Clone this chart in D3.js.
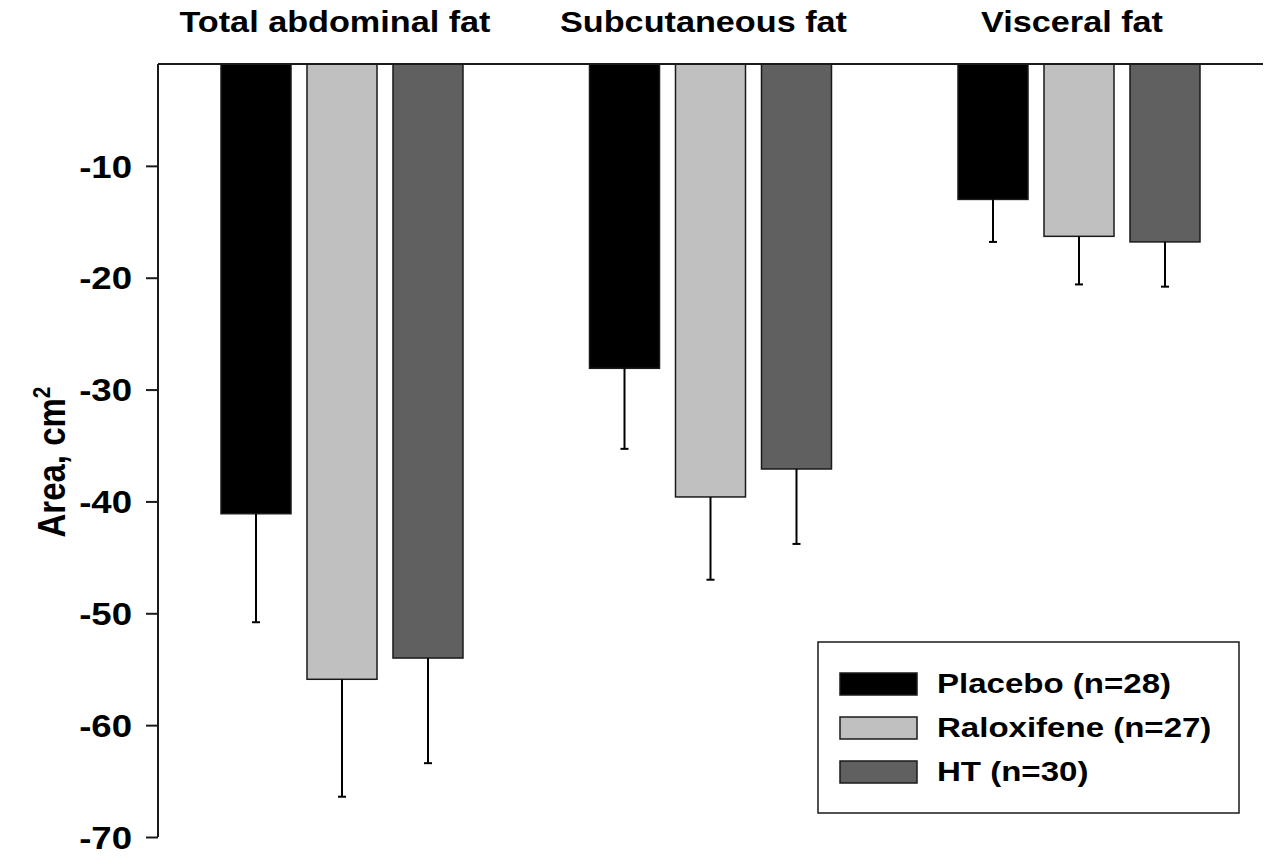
<!DOCTYPE html>
<html>
<head>
<meta charset="utf-8">
<script src="https://cdn.jsdelivr.net/npm/d3@7"></script>
<style>
  body { margin: 0; background: #fff; }
  svg text { font-family: "Liberation Sans", Arial, sans-serif; font-weight: bold; fill: #000; }
</style>
</head>
<body>
<svg id="chart" width="1272" height="856"></svg>
<script>
// data (change in area, cm2)
var groups = ["Total abdominal fat", "Subcutaneous fat", "Visceral fat"]
var series = ["Placebo (n=28)", "Raloxifene (n=27)", "HT (n=30)"]
var colors = ["#000000", "#c0c0c0", "#606060"]
var placebo    = [-41.1, -28.1, -13.0]
var raloxifene = [-55.9, -39.6, -16.3]
var ht         = [-54.0, -37.1, -16.8]
var placebo_err    = [9.7, 7.2, 3.8]
var raloxifene_err = [10.5, 7.4, 4.3]
var ht_err         = [9.4, 6.7, 4.0]
var y_ticks = [-10, -20, -30, -40, -50, -60, -70]

var values = [placebo, raloxifene, ht]
var errs = [placebo_err, raloxifene_err, ht_err]

var svg = d3.select("#chart")
var stretch = 1.18   // text in the original is a bit wider than tall
var plot_top = 64
var axis_x = 158
var right_end = 1263

var y = d3.scaleLinear().domain([-70, 0]).range([837, 54])

var x0 = d3.scaleBand().domain(groups).range([221, 1200]).paddingInner(0.3433)
var x1 = d3.scaleBand().domain(series).range([0, x0.bandwidth()]).paddingInner(0.186)

// bars
var rows = []
groups.forEach((g, gi) => {
  series.forEach((s, si) => {
    rows.push({g: g, s: s, v: values[si][gi], e: errs[si][gi], c: colors[si]})
  })
})

var bars = svg.append("g")
bars.selectAll("rect")
  .data(rows)
  .enter().append("rect")
  .attr("x", d => x0(d.g) + x1(d.s))
  .attr("width", x1.bandwidth())
  .attr("y", plot_top)
  .attr("height", d => y(d.v) - plot_top)
  .attr("fill", d => d.c)
  .attr("stroke", "#1a1a1a")
  .attr("stroke-width", 1.5)

// error bars (downward only)
var eb = svg.append("g").attr("stroke", "#000").attr("stroke-width", 2)
eb.selectAll("line.stem")
  .data(rows)
  .enter().append("line")
  .attr("class", "stem")
  .attr("x1", d => x0(d.g) + x1(d.s) + x1.bandwidth() / 2)
  .attr("x2", d => x0(d.g) + x1(d.s) + x1.bandwidth() / 2)
  .attr("y1", d => y(d.v))
  .attr("y2", d => y(d.v - d.e))
eb.selectAll("line.cap")
  .data(rows)
  .enter().append("line")
  .attr("class", "cap")
  .attr("x1", d => x0(d.g) + x1(d.s) + x1.bandwidth() / 2 - 4)
  .attr("x2", d => x0(d.g) + x1(d.s) + x1.bandwidth() / 2 + 4)
  .attr("y1", d => y(d.v - d.e))
  .attr("y2", d => y(d.v - d.e))

// axes lines
svg.append("line")
  .attr("x1", axis_x).attr("x2", right_end)
  .attr("y1", plot_top).attr("y2", plot_top)
  .attr("stroke", "#1a1a1a").attr("stroke-width", 2)

var yaxis = svg.append("g")
  .attr("transform", `translate(${axis_x},0)`)
  .call(d3.axisLeft(y).tickValues(y_ticks).tickSize(12).tickPadding(12).tickFormat(d => String(d)))
yaxis.select(".domain").remove()
yaxis.append("line")
  .attr("y1", plot_top).attr("y2", y(-70))
  .attr("stroke", "#1a1a1a").attr("stroke-width", 2)
yaxis.selectAll(".tick line").attr("stroke", "#1a1a1a").attr("stroke-width", 2)
yaxis.selectAll(".tick text")
  .attr("font-size", 31)
  .attr("font-family", null)
  .attr("x", -26 / stretch)
  .attr("dy", "0.36em")
  .attr("transform", `scale(${stretch},1)`)

// y label
var ylab = svg.append("text")
  .attr("transform", `translate(65,462) scale(${stretch},1) rotate(-90)`)
  .attr("text-anchor", "middle")
  .attr("font-size", 33)
ylab.append("tspan").text("Area, cm")
ylab.append("tspan").text("2").attr("font-size", 21).attr("dy", -13)

// group titles
svg.selectAll("text.title")
  .data(groups)
  .enter().append("text")
  .attr("class", "title")
  .attr("transform", g => `translate(${x0(g) + x0.bandwidth() / 2 - 7},32) scale(${stretch},1)`)
  .attr("text-anchor", "middle")
  .attr("font-size", 29)
  .text(g => g)

// legend
var legend = svg.append("g").attr("transform", "translate(818,642)")
legend.append("rect")
  .attr("width", 421).attr("height", 171)
  .attr("fill", "#fff").attr("stroke", "#1a1a1a").attr("stroke-width", 1.5)
var li = legend.selectAll("g.item")
  .data(series)
  .enter().append("g")
  .attr("class", "item")
  .attr("transform", (d, i) => `translate(22,${31 + i * 44})`)
li.append("rect")
  .attr("width", 77).attr("height", 22)
  .attr("fill", (d, i) => colors[i])
  .attr("stroke", "#1a1a1a").attr("stroke-width", 1.5)
li.append("text")
  .attr("transform", `translate(97,19.5) scale(${stretch},1)`)
  .attr("font-size", 28)
  .text(d => d)
</script>
</body>
</html>
